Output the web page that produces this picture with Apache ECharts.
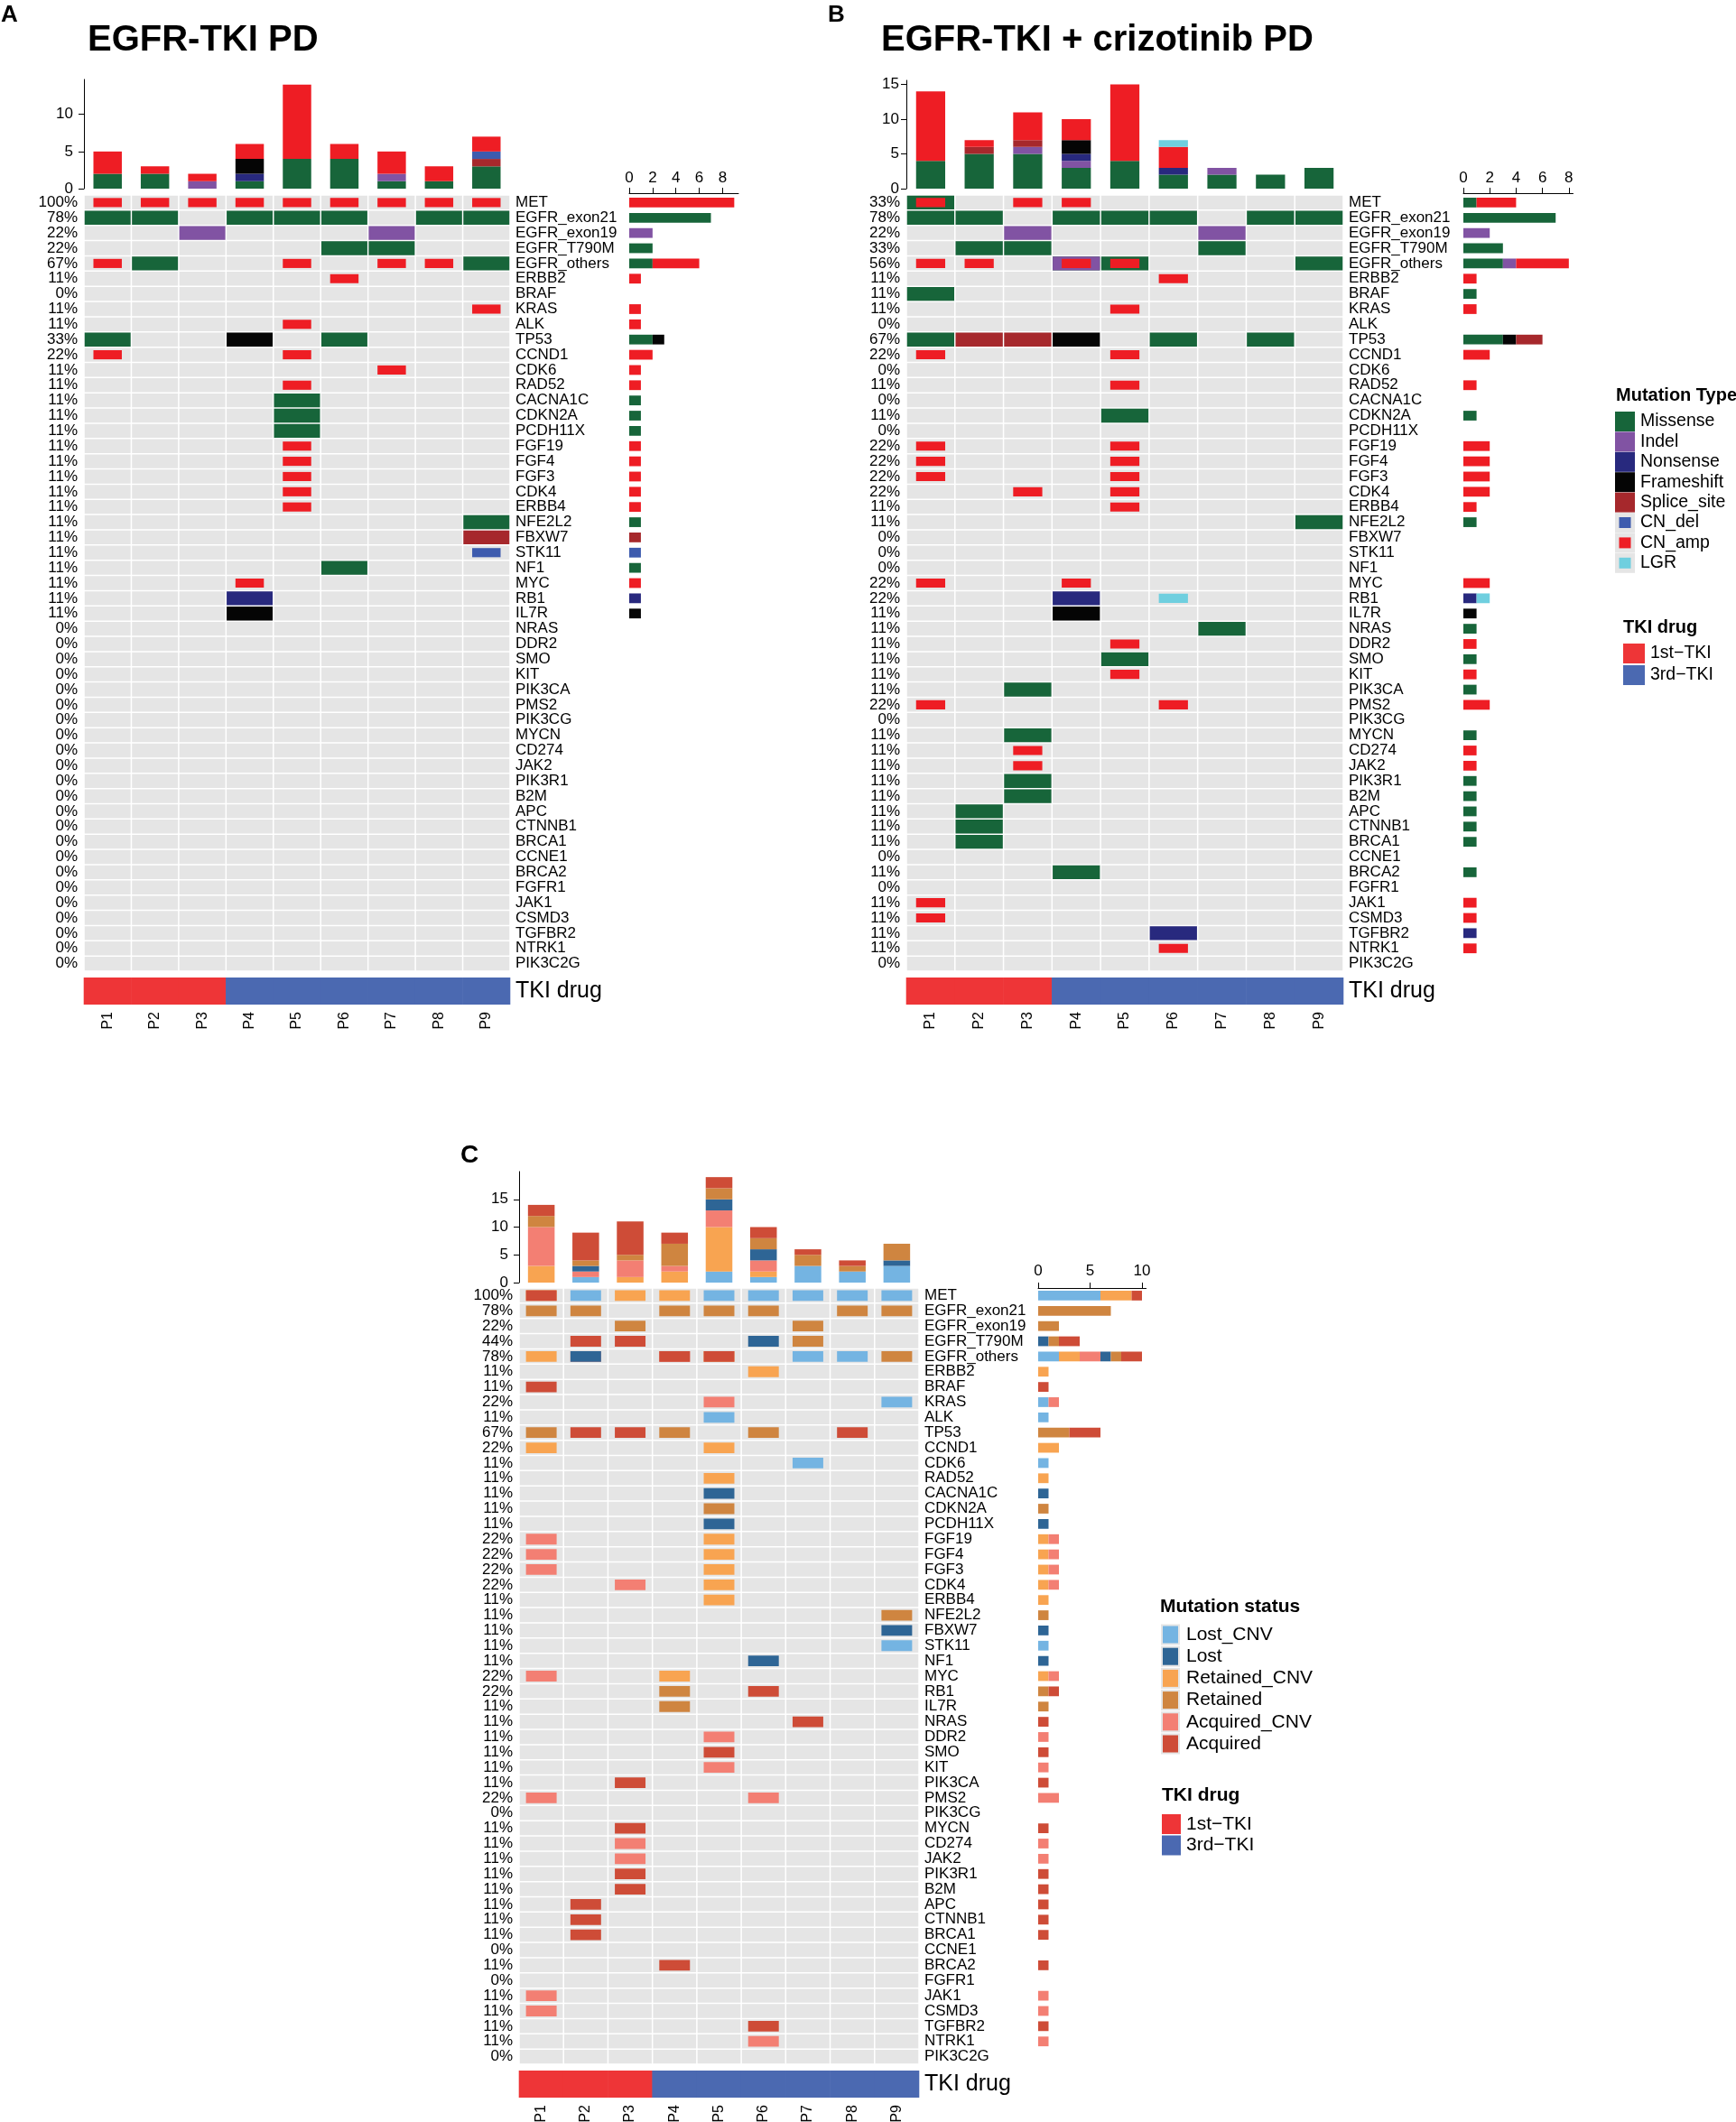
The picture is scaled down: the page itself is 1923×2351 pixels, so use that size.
<!DOCTYPE html>
<html>
<head>
<meta charset="utf-8">
<script src="https://cdn.jsdelivr.net/npm/echarts@6/dist/echarts.min.js"></script>
<style>
html, body { margin: 0; padding: 0; background: #fff; }
#main { width: 1923px; height: 2351px; }
</style>
</head>
<body>
<div id="main"></div>
<script>
const FONT = 'Liberation Sans, Arial, Helvetica, sans-serif';

// ---- data ----
const samples = ['P1', 'P2', 'P3', 'P4', 'P5', 'P6', 'P7', 'P8', 'P9'];
const tkiDrug = ['1st−TKI', '1st−TKI', '1st−TKI', '3rd−TKI', '3rd−TKI', '3rd−TKI', '3rd−TKI', '3rd−TKI', '3rd−TKI'];
const drugTypes = ['1st−TKI', '3rd−TKI'];

const genes = ['MET', 'EGFR_exon21', 'EGFR_exon19', 'EGFR_T790M', 'EGFR_others', 'ERBB2', 'BRAF', 'KRAS', 'ALK',
  'TP53', 'CCND1', 'CDK6', 'RAD52', 'CACNA1C', 'CDKN2A', 'PCDH11X', 'FGF19', 'FGF4', 'FGF3', 'CDK4', 'ERBB4',
  'NFE2L2', 'FBXW7', 'STK11', 'NF1', 'MYC', 'RB1', 'IL7R', 'NRAS', 'DDR2', 'SMO', 'KIT', 'PIK3CA', 'PMS2',
  'PIK3CG', 'MYCN', 'CD274', 'JAK2', 'PIK3R1', 'B2M', 'APC', 'CTNNB1', 'BRCA1', 'CCNE1', 'BRCA2', 'FGFR1',
  'JAK1', 'CSMD3', 'TGFBR2', 'NTRK1', 'PIK3C2G'];

const mutTypes = ['Missense', 'Indel', 'Nonsense', 'Frameshift', 'Splice_site', 'CN_del', 'CN_amp', 'LGR'];
const statusTypes = ['Lost_CNV', 'Lost', 'Retained_CNV', 'Retained', 'Acquired_CNV', 'Acquired']; // legend order
const statusStack = ['Lost_CNV', 'Retained_CNV', 'Acquired_CNV', 'Lost', 'Retained', 'Acquired']; // bar stack order

// [gene, type, samples] ; later rows are drawn on top
const mutA = [
  ['MET', 'CN_amp', [1, 2, 3, 4, 5, 6, 7, 8, 9]],
  ['EGFR_exon21', 'Missense', [1, 2, 4, 5, 6, 8, 9]],
  ['EGFR_exon19', 'Indel', [3, 7]],
  ['EGFR_T790M', 'Missense', [6, 7]],
  ['EGFR_others', 'Missense', [2, 9]],
  ['EGFR_others', 'CN_amp', [1, 5, 7, 8]],
  ['ERBB2', 'CN_amp', [6]],
  ['KRAS', 'CN_amp', [9]],
  ['ALK', 'CN_amp', [5]],
  ['TP53', 'Missense', [1, 6]],
  ['TP53', 'Frameshift', [4]],
  ['CCND1', 'CN_amp', [1, 5]],
  ['CDK6', 'CN_amp', [7]],
  ['RAD52', 'CN_amp', [5]],
  ['CACNA1C', 'Missense', [5]],
  ['CDKN2A', 'Missense', [5]],
  ['PCDH11X', 'Missense', [5]],
  ['FGF19', 'CN_amp', [5]],
  ['FGF4', 'CN_amp', [5]],
  ['FGF3', 'CN_amp', [5]],
  ['CDK4', 'CN_amp', [5]],
  ['ERBB4', 'CN_amp', [5]],
  ['NFE2L2', 'Missense', [9]],
  ['FBXW7', 'Splice_site', [9]],
  ['STK11', 'CN_del', [9]],
  ['NF1', 'Missense', [6]],
  ['MYC', 'CN_amp', [4]],
  ['RB1', 'Nonsense', [4]],
  ['IL7R', 'Frameshift', [4]]
];

const mutB = [
  ['MET', 'Missense', [1]],
  ['MET', 'CN_amp', [1, 3, 4]],
  ['EGFR_exon21', 'Missense', [1, 2, 4, 5, 6, 8, 9]],
  ['EGFR_exon19', 'Indel', [3, 7]],
  ['EGFR_T790M', 'Missense', [2, 3, 7]],
  ['EGFR_others', 'Missense', [4, 5, 9]],
  ['EGFR_others', 'Indel', [4]],
  ['EGFR_others', 'CN_amp', [1, 2, 4, 5]],
  ['ERBB2', 'CN_amp', [6]],
  ['BRAF', 'Missense', [1]],
  ['KRAS', 'CN_amp', [5]],
  ['TP53', 'Missense', [1, 6, 8]],
  ['TP53', 'Splice_site', [2, 3]],
  ['TP53', 'Frameshift', [4]],
  ['CCND1', 'CN_amp', [1, 5]],
  ['RAD52', 'CN_amp', [5]],
  ['CDKN2A', 'Missense', [5]],
  ['FGF19', 'CN_amp', [1, 5]],
  ['FGF4', 'CN_amp', [1, 5]],
  ['FGF3', 'CN_amp', [1, 5]],
  ['CDK4', 'CN_amp', [3, 5]],
  ['ERBB4', 'CN_amp', [5]],
  ['NFE2L2', 'Missense', [9]],
  ['MYC', 'CN_amp', [1, 4]],
  ['RB1', 'Nonsense', [4]],
  ['RB1', 'LGR', [6]],
  ['IL7R', 'Frameshift', [4]],
  ['NRAS', 'Missense', [7]],
  ['DDR2', 'CN_amp', [5]],
  ['SMO', 'Missense', [5]],
  ['KIT', 'CN_amp', [5]],
  ['PIK3CA', 'Missense', [3]],
  ['PMS2', 'CN_amp', [1, 6]],
  ['MYCN', 'Missense', [3]],
  ['CD274', 'CN_amp', [3]],
  ['JAK2', 'CN_amp', [3]],
  ['PIK3R1', 'Missense', [3]],
  ['B2M', 'Missense', [3]],
  ['APC', 'Missense', [2]],
  ['CTNNB1', 'Missense', [2]],
  ['BRCA1', 'Missense', [2]],
  ['BRCA2', 'Missense', [4]],
  ['JAK1', 'CN_amp', [1]],
  ['CSMD3', 'CN_amp', [1]],
  ['TGFBR2', 'Nonsense', [6]],
  ['NTRK1', 'CN_amp', [6]]
];

const mutC = [
  ['MET', 'Retained_CNV', [1, 3, 4]],
  ['MET', 'Acquired', [1]],
  ['MET', 'Lost_CNV', [2, 5, 6, 7, 8, 9]],
  ['EGFR_exon21', 'Retained', [1, 2, 4, 5, 6, 8, 9]],
  ['EGFR_exon19', 'Retained', [3, 7]],
  ['EGFR_T790M', 'Acquired', [2, 3]],
  ['EGFR_T790M', 'Lost', [6]],
  ['EGFR_T790M', 'Retained', [7]],
  ['EGFR_others', 'Acquired_CNV', [2, 4]],
  ['EGFR_others', 'Retained_CNV', [1, 5]],
  ['EGFR_others', 'Lost', [2]],
  ['EGFR_others', 'Acquired', [4, 5]],
  ['EGFR_others', 'Lost_CNV', [7, 8]],
  ['EGFR_others', 'Retained', [9]],
  ['ERBB2', 'Retained_CNV', [6]],
  ['BRAF', 'Acquired', [1]],
  ['KRAS', 'Acquired_CNV', [5]],
  ['KRAS', 'Lost_CNV', [9]],
  ['ALK', 'Lost_CNV', [5]],
  ['TP53', 'Retained', [1, 4, 6]],
  ['TP53', 'Acquired', [2, 3, 8]],
  ['CCND1', 'Retained_CNV', [1, 5]],
  ['CDK6', 'Lost_CNV', [7]],
  ['RAD52', 'Retained_CNV', [5]],
  ['CACNA1C', 'Lost', [5]],
  ['CDKN2A', 'Retained', [5]],
  ['PCDH11X', 'Lost', [5]],
  ['FGF19', 'Acquired_CNV', [1]],
  ['FGF19', 'Retained_CNV', [5]],
  ['FGF4', 'Acquired_CNV', [1]],
  ['FGF4', 'Retained_CNV', [5]],
  ['FGF3', 'Acquired_CNV', [1]],
  ['FGF3', 'Retained_CNV', [5]],
  ['CDK4', 'Acquired_CNV', [3]],
  ['CDK4', 'Retained_CNV', [5]],
  ['ERBB4', 'Retained_CNV', [5]],
  ['NFE2L2', 'Retained', [9]],
  ['FBXW7', 'Lost', [9]],
  ['STK11', 'Lost_CNV', [9]],
  ['NF1', 'Lost', [6]],
  ['MYC', 'Acquired_CNV', [1]],
  ['MYC', 'Retained_CNV', [4]],
  ['RB1', 'Retained', [4]],
  ['RB1', 'Acquired', [6]],
  ['IL7R', 'Retained', [4]],
  ['NRAS', 'Acquired', [7]],
  ['DDR2', 'Acquired_CNV', [5]],
  ['SMO', 'Acquired', [5]],
  ['KIT', 'Acquired_CNV', [5]],
  ['PIK3CA', 'Acquired', [3]],
  ['PMS2', 'Acquired_CNV', [1, 6]],
  ['MYCN', 'Acquired', [3]],
  ['CD274', 'Acquired_CNV', [3]],
  ['JAK2', 'Acquired_CNV', [3]],
  ['PIK3R1', 'Acquired', [3]],
  ['B2M', 'Acquired', [3]],
  ['APC', 'Acquired', [2]],
  ['CTNNB1', 'Acquired', [2]],
  ['BRCA1', 'Acquired', [2]],
  ['BRCA2', 'Acquired', [4]],
  ['JAK1', 'Acquired_CNV', [1]],
  ['CSMD3', 'Acquired_CNV', [1]],
  ['TGFBR2', 'Acquired', [6]],
  ['NTRK1', 'Acquired_CNV', [6]]
];

// ---- styles ----
const mutColors = {
  Missense: '#17653A', Indel: '#8153A3', Nonsense: '#28297E', Frameshift: '#050505',
  Splice_site: '#A6282C', CN_del: '#3D5BAE', CN_amp: '#EE1D24', LGR: '#6FCFDF'
};
const statusColors = {
  Lost_CNV: '#74B4E2', Lost: '#2E6595', Retained_CNV: '#F8A451',
  Retained: '#CF8540', Acquired_CNV: '#F37F73', Acquired: '#CE4C37'
};
const drugColors = ['#EE3537', '#4B69B1'];
const CELL_BG = '#E5E5E5';

const panels = [
  { key: 'A', muts: mutA, stackOrder: mutTypes, colors: mutColors, small: ['CN_del', 'CN_amp', 'LGR'], smallW: 0.6, smallH: 0.6,
    left: 93, width: 472, barTop: 88, barH: 121, barMax: 14.7, barTicks: [0, 5, 10], barMargin: 12,
    heatTop: 216, heatH: 860, rightLeft: 697, rightW: 121, rightMax: 9.36, rightTicks: [0, 2, 4, 6, 8], rightOffset: 2, rightMargin: 8,
    drugTop: 1083, drugH: 30 },
  { key: 'B', muts: mutB, stackOrder: mutTypes, colors: mutColors, small: ['CN_del', 'CN_amp', 'LGR'], smallW: 0.6, smallH: 0.6,
    left: 1004, width: 484, barTop: 89, barH: 120, barMax: 15.6, barTicks: [0, 5, 10, 15], barMargin: 8,
    heatTop: 216, heatH: 860, rightLeft: 1621, rightW: 121.5, rightMax: 8.32, rightTicks: [0, 2, 4, 6, 8], rightOffset: 2, rightMargin: 8,
    drugTop: 1083, drugH: 30 },
  { key: 'C', muts: mutC, stackOrder: statusStack, colors: statusColors, small: statusTypes, smallW: 0.69, smallH: 0.7,
    left: 575, width: 443, barTop: 1298, barH: 123, barMax: 20, barTicks: [0, 5, 10, 15], barMargin: 12,
    heatTop: 1427, heatH: 860, rightLeft: 1150, rightW: 119.6, rightMax: 10.4, rightTicks: [0, 5, 10], rightOffset: 0, rightMargin: 10,
    drugTop: 2294, drugH: 30 }
];

const option = {
  animation: false,
  backgroundColor: '#fff',
  textStyle: { fontFamily: FONT },
  grid: [], xAxis: [], yAxis: [], series: [], graphic: []
};

function addGrid(g) { g.outerBoundsMode = 'none'; g.containLabel = false; option.grid.push(g); return option.grid.length - 1; }
function addX(a) { option.xAxis.push(a); return option.xAxis.length - 1; }
function addY(a) { option.yAxis.push(a); return option.yAxis.length - 1; }

const blackLine = { show: true, lineStyle: { color: '#000', width: 1 } };
const lbl = (extra) => Object.assign({ color: '#000', fontSize: 17, fontFamily: FONT }, extra);

panels.forEach(L => {
  const nS = samples.length, nG = genes.length;
  const tops = {}, rights = {};
  L.stackOrder.forEach(t => { tops[t] = new Array(nS).fill(0); rights[t] = new Array(nG).fill(0); });
  const hit = genes.map(() => new Set());
  const cells = [];
  L.muts.forEach(([g, t, ps]) => {
    const gi = genes.indexOf(g);
    ps.forEach(p => {
      tops[t][p - 1]++;
      rights[t][gi]++;
      hit[gi].add(p);
      cells.push([p - 1, gi, t]);
    });
  });
  const pct = hit.map(s => Math.round(s.size / nS * 100) + '%');

  // top stacked bars
  const gTop = addGrid({ left: L.left, top: L.barTop, width: L.width, height: L.barH });
  const xTop = addX({ gridIndex: gTop, type: 'category', data: samples, show: false });
  const yTop = addY({ gridIndex: gTop, type: 'value', min: 0, max: L.barMax, position: 'left',
    axisLine: blackLine,
    axisTick: { show: true, length: 6, customValues: L.barTicks, lineStyle: { color: '#000' } },
    axisLabel: lbl({ customValues: L.barTicks, margin: L.barMargin }),
    splitLine: { show: false } });
  L.stackOrder.forEach(t => {
    option.series.push({ type: 'bar', name: t, xAxisIndex: xTop, yAxisIndex: yTop, stack: 'top' + L.key,
      data: tops[t], barWidth: '60%', itemStyle: { color: L.colors[t] }, silent: true });
  });

  // oncoprint cells
  const gHeat = addGrid({ left: L.left, top: L.heatTop, width: L.width, height: L.heatH });
  const xHeat = addX({ gridIndex: gHeat, type: 'category', data: samples, show: false });
  const yPct = addY({ gridIndex: gHeat, type: 'category', data: genes, inverse: true, position: 'left',
    axisLine: { show: false }, axisTick: { show: false },
    axisLabel: lbl({ interval: 0, margin: 7, formatter: (v, i) => pct[i] }) });
  addY({ gridIndex: gHeat, type: 'category', data: genes, inverse: true, position: 'right',
    axisLine: { show: false }, axisTick: { show: false },
    axisLabel: lbl({ interval: 0, margin: 6 }) });
  const bgCells = [];
  for (let g = 0; g < nG; g++) for (let s = 0; s < nS; s++) bgCells.push([s, g]);
  option.series.push({ type: 'custom', xAxisIndex: xHeat, yAxisIndex: yPct, silent: true,
    encode: { x: 0, y: 1 }, data: bgCells,
    renderItem: (params, api) => {
      const c = api.coord([api.value(0), api.value(1)]);
      const sz = api.size([1, 1]);
      const w = sz[0] - 1.5, h = sz[1] - 1.5;
      return { type: 'rect', shape: { x: c[0] - w / 2, y: c[1] - h / 2, width: w, height: h }, style: { fill: CELL_BG } };
    } });
  option.series.push({ type: 'custom', xAxisIndex: xHeat, yAxisIndex: yPct, silent: true,
    encode: { x: 0, y: 1 }, data: cells.map(d => [d[0], d[1], L.stackOrder.indexOf(d[2])]),
    renderItem: (params, api) => {
      const c = api.coord([api.value(0), api.value(1)]);
      const sz = api.size([1, 1]);
      const t = L.stackOrder[api.value(2)];
      let w = sz[0] - 1.5, h = sz[1] - 1.5;
      if (L.small.indexOf(t) >= 0) { w = sz[0] * L.smallW; h = sz[1] * L.smallH; }
      return { type: 'rect', shape: { x: c[0] - w / 2, y: c[1] - h / 2, width: w, height: h }, style: { fill: L.colors[t] } };
    } });

  // right stacked bars
  const gRight = addGrid({ left: L.rightLeft, top: L.heatTop, width: L.rightW, height: L.heatH });
  const xRight = addX({ gridIndex: gRight, type: 'value', position: 'top', min: 0, max: L.rightMax, offset: L.rightOffset,
    axisLine: blackLine,
    axisTick: { show: true, length: 6, customValues: L.rightTicks, lineStyle: { color: '#000' } },
    axisLabel: lbl({ customValues: L.rightTicks, margin: L.rightMargin }),
    splitLine: { show: false } });
  const yRight = addY({ gridIndex: gRight, type: 'category', data: genes, inverse: true, show: false });
  L.stackOrder.forEach(t => {
    option.series.push({ type: 'bar', name: t, xAxisIndex: xRight, yAxisIndex: yRight, stack: 'right' + L.key,
      data: rights[t].map(v => v || '-'), barWidth: '64%', itemStyle: { color: L.colors[t] }, silent: true });
  });

  // TKI drug annotation
  const gDrug = addGrid({ left: L.left, top: L.drugTop, width: L.width, height: L.drugH });
  const xDrug = addX({ gridIndex: gDrug, type: 'category', data: samples, position: 'bottom',
    axisLine: { show: false }, axisTick: { show: false },
    axisLabel: lbl({ interval: 0, rotate: 90, margin: 8, fontSize: 16 }) });
  const yDrug = addY({ gridIndex: gDrug, type: 'category', data: ['TKI drug'], position: 'right',
    axisLine: { show: false }, axisTick: { show: false },
    axisLabel: lbl({ margin: 6, fontSize: 25 }) });
  option.series.push({ type: 'custom', xAxisIndex: xDrug, yAxisIndex: yDrug, silent: true,
    encode: { x: 0, y: 1 }, data: tkiDrug.map((d, i) => [i, 0, drugTypes.indexOf(d)]),
    renderItem: (params, api) => {
      const c = api.coord([api.value(0), api.value(1)]);
      const sz = api.size([1, 1]);
      const w = sz[0] + 0.6, h = sz[1];
      return { type: 'rect', shape: { x: c[0] - w / 2, y: c[1] - h / 2, width: w, height: h }, style: { fill: drugColors[api.value(2)] } };
    } });
});

// ---- titles and legends ----
function text(x, y, s, size, bold) {
  option.graphic.push({ type: 'text', x: x, y: y, silent: true,
    style: { text: s, fontSize: size, fontWeight: bold ? 'bold' : 'normal', fontFamily: FONT, fill: '#000', align: 'left', verticalAlign: 'middle' } });
}
function rect(x, y, w, h, fill) {
  option.graphic.push({ type: 'rect', silent: true, shape: { x: x, y: y, width: w, height: h }, style: { fill: fill } });
}

text(1, 17, 'A', 26, true);
text(97, 45, 'EGFR-TKI PD', 40, true);
text(917, 17, 'B', 26, true);
text(976, 45, 'EGFR-TKI + crizotinib PD', 40, true);
text(510, 1280, 'C', 28, true);

// mutation type legend (panels A/B)
text(1790, 438, 'Mutation Type', 20, true);
mutTypes.forEach((t, i) => {
  const cy = 467 + 22.4 * i;
  if (['CN_del', 'CN_amp', 'LGR'].indexOf(t) >= 0) {
    rect(1789, cy - 11, 22, 22, CELL_BG);
    rect(1793.5, cy - 6, 13, 12, mutColors[t]);
  } else {
    rect(1789, cy - 11, 22, 22, mutColors[t]);
  }
  text(1817, cy, t, 19.5, false);
});
text(1798, 695, 'TKI drug', 20, true);
drugTypes.forEach((d, i) => {
  const cy = 724 + 24 * i;
  rect(1798, cy - 11, 24, 22, drugColors[i]);
  text(1828, cy, d, 19.5, false);
});

// mutation status legend (panel C)
text(1285, 1780, 'Mutation status', 21, true);
statusTypes.forEach((t, i) => {
  const cy = 1811 + 24.2 * i;
  rect(1286, cy - 11.5, 21, 23, CELL_BG);
  rect(1288, cy - 9.5, 17, 19, statusColors[t]);
  text(1314, cy, t, 21, false);
});
text(1287, 1989, 'TKI drug', 21, true);
drugTypes.forEach((d, i) => {
  const cy = 2021 + 23.5 * i;
  rect(1287, cy - 11, 21, 22, drugColors[i]);
  text(1314, cy, d, 21, false);
});

const chart = echarts.init(document.getElementById('main'), null, { renderer: 'canvas' });
chart.setOption(option);
</script>
</body>
</html>
